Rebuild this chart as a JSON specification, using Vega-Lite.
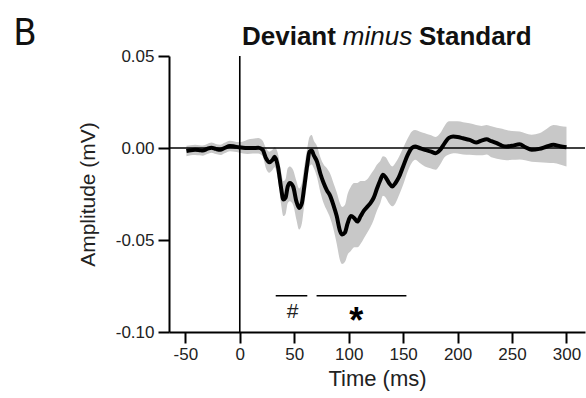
{
  "$schema": "https://vega.github.io/schema/vega-lite/v6.json",
  "width": 416,
  "height": 276,
  "autosize": {"type": "none"},
  "padding": {"left": 169, "top": 56, "right": 1, "bottom": 66},
  "background": "white",
  "config": {
    "view": {"stroke": null},
    "font": "Liberation Sans",
    "axis": {"grid": false}
  },
  "datasets": {
    "erp": [
      {"t": -49, "mean": -0.0016, "lo": -0.0045, "hi": 0.0012},
      {"t": -45, "mean": -0.0012, "lo": -0.004, "hi": 0.0015},
      {"t": -41, "mean": -0.001, "lo": -0.0038, "hi": 0.0018},
      {"t": -37, "mean": -0.0012, "lo": -0.004, "hi": 0.0015},
      {"t": -34, "mean": -0.0014, "lo": -0.0042, "hi": 0.0014},
      {"t": -30, "mean": -0.0005, "lo": -0.0033, "hi": 0.0022},
      {"t": -26, "mean": 0.0002, "lo": -0.0026, "hi": 0.003},
      {"t": -22, "mean": -0.0005, "lo": -0.0033, "hi": 0.0022},
      {"t": -18, "mean": -0.001, "lo": -0.0038, "hi": 0.0018},
      {"t": -14, "mean": 0.0, "lo": -0.0028, "hi": 0.0028},
      {"t": -9, "mean": 0.0011, "lo": -0.0017, "hi": 0.0039},
      {"t": -5, "mean": 0.0008, "lo": -0.002, "hi": 0.0036},
      {"t": -1, "mean": 0.0004, "lo": -0.0024, "hi": 0.0032},
      {"t": 3, "mean": 0.0001, "lo": -0.003, "hi": 0.0035},
      {"t": 7, "mean": 0.0, "lo": -0.0032, "hi": 0.0045},
      {"t": 12, "mean": 0.0, "lo": -0.003, "hi": 0.005},
      {"t": 17, "mean": 0.0001, "lo": -0.003, "hi": 0.0055},
      {"t": 21, "mean": -0.001, "lo": -0.0045, "hi": 0.004},
      {"t": 24, "mean": -0.0055, "lo": -0.011, "hi": 0.0},
      {"t": 27, "mean": -0.0078, "lo": -0.0135, "hi": -0.002},
      {"t": 30, "mean": -0.0065, "lo": -0.012, "hi": -0.001},
      {"t": 32, "mean": -0.0048, "lo": -0.0105, "hi": 0.0005},
      {"t": 35, "mean": -0.01, "lo": -0.017, "hi": -0.003},
      {"t": 38, "mean": -0.022, "lo": -0.031, "hi": -0.013},
      {"t": 40, "mean": -0.028, "lo": -0.037, "hi": -0.018},
      {"t": 42, "mean": -0.027, "lo": -0.036, "hi": -0.017},
      {"t": 44, "mean": -0.021, "lo": -0.03, "hi": -0.011},
      {"t": 46, "mean": -0.019, "lo": -0.029, "hi": -0.01},
      {"t": 49, "mean": -0.021, "lo": -0.031, "hi": -0.012},
      {"t": 52, "mean": -0.029, "lo": -0.039, "hi": -0.018},
      {"t": 54.5, "mean": -0.0326, "lo": -0.0443, "hi": -0.022},
      {"t": 57, "mean": -0.03, "lo": -0.041, "hi": -0.019},
      {"t": 59, "mean": -0.022, "lo": -0.032, "hi": -0.011},
      {"t": 62, "mean": -0.009, "lo": -0.018, "hi": 0.0},
      {"t": 64, "mean": -0.002, "lo": -0.01, "hi": 0.006},
      {"t": 66, "mean": -0.0014, "lo": -0.009, "hi": 0.007},
      {"t": 68, "mean": -0.004, "lo": -0.011, "hi": 0.004},
      {"t": 71, "mean": -0.0075, "lo": -0.016, "hi": 0.001},
      {"t": 74, "mean": -0.014, "lo": -0.024, "hi": -0.005},
      {"t": 77, "mean": -0.019, "lo": -0.03, "hi": -0.009},
      {"t": 80, "mean": -0.023, "lo": -0.034, "hi": -0.011},
      {"t": 83, "mean": -0.026, "lo": -0.038, "hi": -0.014},
      {"t": 86, "mean": -0.031, "lo": -0.044, "hi": -0.019},
      {"t": 89, "mean": -0.037, "lo": -0.052, "hi": -0.024},
      {"t": 92, "mean": -0.045, "lo": -0.061, "hi": -0.03},
      {"t": 94, "mean": -0.047, "lo": -0.063, "hi": -0.032},
      {"t": 96.5, "mean": -0.046, "lo": -0.062, "hi": -0.031},
      {"t": 99, "mean": -0.041, "lo": -0.058, "hi": -0.025},
      {"t": 102, "mean": -0.037, "lo": -0.056, "hi": -0.021},
      {"t": 105, "mean": -0.038, "lo": -0.054, "hi": -0.019},
      {"t": 108, "mean": -0.04, "lo": -0.054, "hi": -0.019},
      {"t": 111, "mean": -0.037, "lo": -0.052, "hi": -0.018},
      {"t": 114, "mean": -0.034, "lo": -0.049, "hi": -0.018},
      {"t": 117, "mean": -0.032, "lo": -0.046, "hi": -0.017},
      {"t": 120, "mean": -0.03, "lo": -0.043, "hi": -0.0145},
      {"t": 123, "mean": -0.027, "lo": -0.039, "hi": -0.012},
      {"t": 126, "mean": -0.022, "lo": -0.034, "hi": -0.009},
      {"t": 129, "mean": -0.0175, "lo": -0.03, "hi": -0.007},
      {"t": 131.5, "mean": -0.0146, "lo": -0.026, "hi": -0.0045},
      {"t": 134, "mean": -0.016, "lo": -0.027, "hi": -0.005},
      {"t": 137, "mean": -0.019, "lo": -0.03, "hi": -0.008},
      {"t": 140, "mean": -0.0209, "lo": -0.0317, "hi": -0.01},
      {"t": 143, "mean": -0.019, "lo": -0.03, "hi": -0.008},
      {"t": 146, "mean": -0.016, "lo": -0.026, "hi": -0.005},
      {"t": 150, "mean": -0.01, "lo": -0.02, "hi": 0.0},
      {"t": 154, "mean": -0.004, "lo": -0.013, "hi": 0.005},
      {"t": 158, "mean": 0.0, "lo": -0.008, "hi": 0.009},
      {"t": 161, "mean": 0.0008, "lo": -0.0064, "hi": 0.0098},
      {"t": 165, "mean": 0.0, "lo": -0.008, "hi": 0.009},
      {"t": 170, "mean": -0.001, "lo": -0.01, "hi": 0.008},
      {"t": 175, "mean": -0.0018, "lo": -0.011, "hi": 0.007},
      {"t": 180, "mean": -0.0028, "lo": -0.0118, "hi": 0.006},
      {"t": 184, "mean": -0.001, "lo": -0.009, "hi": 0.008},
      {"t": 188, "mean": 0.0025, "lo": -0.005, "hi": 0.012},
      {"t": 192, "mean": 0.0055, "lo": -0.0035, "hi": 0.0145},
      {"t": 196, "mean": 0.0062, "lo": -0.0028, "hi": 0.0145},
      {"t": 200, "mean": 0.006, "lo": -0.003, "hi": 0.0145},
      {"t": 205, "mean": 0.0053, "lo": -0.0035, "hi": 0.014},
      {"t": 211, "mean": 0.0044, "lo": -0.0037, "hi": 0.0134},
      {"t": 217, "mean": 0.003, "lo": -0.004, "hi": 0.0125},
      {"t": 222, "mean": 0.004, "lo": -0.004, "hi": 0.012},
      {"t": 226.6, "mean": 0.0047, "lo": -0.0035, "hi": 0.0125},
      {"t": 231, "mean": 0.0037, "lo": -0.005, "hi": 0.0118},
      {"t": 236, "mean": 0.0026, "lo": -0.0058, "hi": 0.011},
      {"t": 241, "mean": 0.0012, "lo": -0.0064, "hi": 0.0105},
      {"t": 245, "mean": 0.0008, "lo": -0.0066, "hi": 0.0098},
      {"t": 250, "mean": 0.0012, "lo": -0.0064, "hi": 0.0092},
      {"t": 257, "mean": 0.002, "lo": -0.0062, "hi": 0.0089},
      {"t": 262, "mean": 0.0005, "lo": -0.0066, "hi": 0.008},
      {"t": 268, "mean": -0.001, "lo": -0.0075, "hi": 0.0072},
      {"t": 275, "mean": -0.0005, "lo": -0.0078, "hi": 0.008},
      {"t": 282, "mean": 0.0008, "lo": -0.008, "hi": 0.0105},
      {"t": 288, "mean": 0.0017, "lo": -0.0082, "hi": 0.0125},
      {"t": 294, "mean": 0.001, "lo": -0.009, "hi": 0.012},
      {"t": 300, "mean": 0.0004, "lo": -0.01, "hi": 0.0116}
    ],
    "zero": [{"t": 0, "v": 0}],
    "sig": [
      {"t": 33, "t2": 62, "v": -0.0803},
      {"t": 70.5, "t2": 153, "v": -0.0803}
    ],
    "sigtext": [
      {"t": 48.4, "v": -0.0925, "label": "#"}
    ],
    "star": [
      {"t": 107, "v": -0.1005, "label": "*"}
    ],
    "titlebold": [
      {"t": 2.0, "v": 0.0558, "label": "Deviant"},
      {"t": 164.5, "v": 0.0558, "label": "Standard"}
    ],
    "titleital": [
      {"t": 94.6, "v": 0.0558, "label": "minus"}
    ],
    "panel": [
      {"t": -208, "v": 0.0561, "label": "B"}
    ]
  },
  "layer": [
    {
      "data": {"name": "erp"},
      "mark": {"type": "area", "color": "#c8c8c8", "interpolate": "monotone"},
      "encoding": {
        "x": {
          "field": "t", "type": "quantitative",
          "scale": {"domain": [-65, 317], "nice": false, "zero": false},
          "axis": {
            "title": "Time (ms)", "values": [-50, 0, 50, 100, 150, 200, 250, 300], "format": "d",
            "labelExpr": "replace(datum.label, '\u2212', '-')",
            "domainColor": "black", "domainWidth": 2, "tickColor": "black", "tickWidth": 2, "tickSize": 11,
            "labelFont": "Liberation Sans", "labelFontSize": 17, "labelColor": "#222", "labelPadding": 3,
            "titleFont": "Liberation Sans", "titleFontSize": 22, "titleFontWeight": "normal", "titleColor": "#222", "titlePadding": 6
          }
        },
        "y": {
          "field": "lo", "type": "quantitative",
          "scale": {"domain": [-0.1, 0.05], "nice": false, "zero": false},
          "axis": {
            "title": "Amplitude (mV)", "values": [-0.1, -0.05, 0, 0.05], "format": ".2f",
            "labelExpr": "replace(datum.label, '\u2212', '-')",
            "domainColor": "black", "domainWidth": 2, "tickColor": "black", "tickWidth": 2, "tickSize": 11,
            "labelFont": "Liberation Sans", "labelFontSize": 17, "labelColor": "#222", "labelPadding": 4,
            "titleFont": "Liberation Sans", "titleFontSize": 21, "titleFontWeight": "normal", "titleColor": "#222", "titlePadding": 17
          }
        },
        "y2": {"field": "hi"}
      }
    },
    {
      "data": {"name": "zero"},
      "mark": {"type": "rule", "color": "black", "strokeWidth": 1.4},
      "encoding": {"y": {"field": "v", "type": "quantitative", "title": "Amplitude (mV)"}}
    },
    {
      "data": {"name": "zero"},
      "mark": {"type": "rule", "color": "black", "strokeWidth": 1.6},
      "encoding": {"x": {"field": "t", "type": "quantitative", "title": "Time (ms)"}}
    },
    {
      "data": {"name": "erp"},
      "mark": {"type": "line", "color": "black", "strokeWidth": 4, "interpolate": "monotone"},
      "encoding": {
        "x": {"field": "t", "type": "quantitative", "title": "Time (ms)"},
        "y": {"field": "mean", "type": "quantitative", "title": "Amplitude (mV)"}
      }
    },
    {
      "data": {"name": "sig"},
      "mark": {"type": "rule", "color": "black", "strokeWidth": 1.3},
      "encoding": {
        "x": {"field": "t", "type": "quantitative", "title": "Time (ms)"},
        "x2": {"field": "t2"},
        "y": {"field": "v", "type": "quantitative", "title": "Amplitude (mV)"}
      }
    },
    {
      "data": {"name": "sigtext"},
      "mark": {"type": "text", "font": "Liberation Sans", "fontSize": 21, "color": "#222", "align": "center", "baseline": "alphabetic"},
      "encoding": {
        "x": {"field": "t", "type": "quantitative", "title": "Time (ms)"},
        "y": {"field": "v", "type": "quantitative", "title": "Amplitude (mV)"},
        "text": {"field": "label"}
      }
    },
    {
      "data": {"name": "star"},
      "mark": {"type": "text", "font": "Liberation Sans", "fontSize": 36, "fontWeight": "bold", "color": "black", "align": "center", "baseline": "alphabetic"},
      "encoding": {
        "x": {"field": "t", "type": "quantitative", "title": "Time (ms)"},
        "y": {"field": "v", "type": "quantitative", "title": "Amplitude (mV)"},
        "text": {"field": "label"}
      }
    },
    {
      "data": {"name": "titlebold"},
      "mark": {"type": "text", "font": "Liberation Sans", "fontSize": 26, "fontWeight": "bold", "color": "#111", "align": "left", "baseline": "alphabetic"},
      "encoding": {
        "x": {"field": "t", "type": "quantitative", "title": "Time (ms)"},
        "y": {"field": "v", "type": "quantitative", "title": "Amplitude (mV)"},
        "text": {"field": "label"}
      }
    },
    {
      "data": {"name": "titleital"},
      "mark": {"type": "text", "font": "Liberation Sans", "fontSize": 26, "fontStyle": "italic", "color": "#111", "align": "left", "baseline": "alphabetic"},
      "encoding": {
        "x": {"field": "t", "type": "quantitative", "title": "Time (ms)"},
        "y": {"field": "v", "type": "quantitative", "title": "Amplitude (mV)"},
        "text": {"field": "label"}
      }
    },
    {
      "data": {"name": "panel"},
      "mark": {"type": "text", "font": "DejaVu Sans Condensed", "fontSize": 38, "color": "#111", "align": "left", "baseline": "alphabetic"},
      "encoding": {
        "x": {"field": "t", "type": "quantitative", "title": "Time (ms)"},
        "y": {"field": "v", "type": "quantitative", "title": "Amplitude (mV)"},
        "text": {"field": "label"}
      }
    }
  ]
}
